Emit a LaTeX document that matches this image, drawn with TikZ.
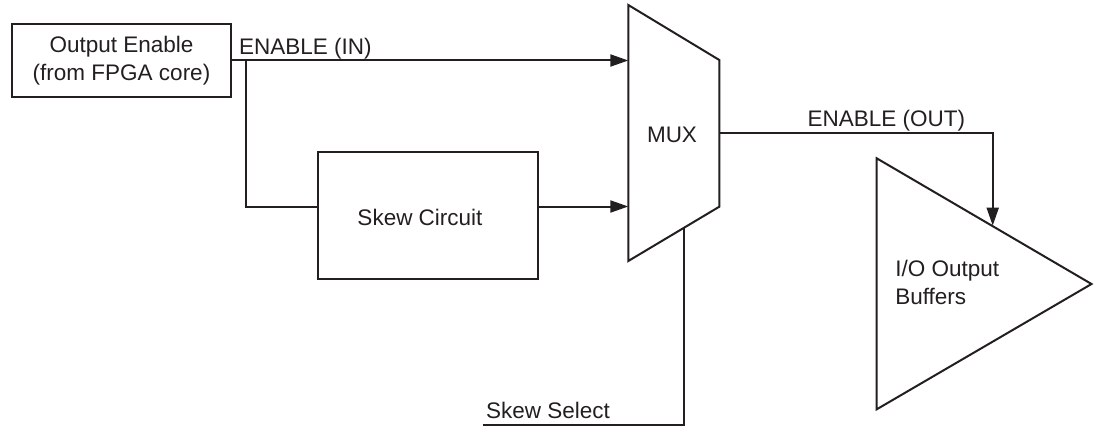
\documentclass[tikz,border=0pt]{standalone}
\usepackage{fontspec}
\setmainfont{Liberation Sans}
\usetikzlibrary{arrows.meta}
\definecolor{ink}{RGB}{35,31,32}
\begin{document}
\begin{tikzpicture}[x=1pt,y=-1pt, line width=2pt, color=ink,
  font=\fontsize{22.5}{28}\selectfont,
  box/.style={draw, rectangle, inner sep=0pt, line join=miter},
  arr/.style={-{Triangle[length=18pt,width=12pt]}},
  lbl/.style={inner sep=0pt, anchor=base west},
  ctr/.style={inner sep=0pt, anchor=base}]
\useasboundingbox (0,0) rectangle (1094,428);
% boxes
\node[box, minimum width=219pt, minimum height=73pt, align=center] (oe) at (121.5,60.5) {Output Enable\\(from FPGA core)};
\node[box, minimum width=219.4pt, minimum height=127.6pt] (sk) at (428,215.5) {};
\node[ctr] (sktxt) at (420,225) {Skew Circuit};
% MUX
\coordinate (m1) at (628.3,5);
\coordinate (m2) at (719.3,60);
\coordinate (m3) at (719.3,206.7);
\coordinate (m4) at (628.3,261);
\draw[line join=miter] (m1) -- (m2) -- (m3) -- (m4) -- cycle;
\node[ctr] (muxtxt) at (672,142.7) {MUX};
% buffer triangle
\coordinate (t1) at (876.7,158.3);
\coordinate (t2) at (1091.5,284);
\coordinate (t3) at (876.7,409.3);
\draw[line join=miter] (t1) -- (t2) -- (t3) -- cycle;
\node[lbl, align=left] (buftxt) at (894.3,304) {I/O Output\\Buffers};
% connection points
\coordinate (muxin1) at (628.3,60.5);
\coordinate (muxin2) at (628.3,206.5);
\coordinate (br) at (245.7,60.5);
\coordinate (skin) at (318.3,206.5);
\coordinate (skout) at (537.7,206.5);
\coordinate (muxout) at (719.3,133.3);
\coordinate (bufin) at (992.7,225.6);
\coordinate (sel0) at (482.7,425);
\coordinate (selm) at (684,228);
% connectors
\draw[arr] (oe.east) -- (muxin1);
\draw (br) |- (skin);
\draw[arr] (skout) -- (muxin2);
\draw[arr] (muxout) -| (bufin);
\draw (sel0) -| (selm);
% labels
\node[lbl] (lin) at (238,55) {ENABLE (IN)};
\node[lbl] (lout) at (806.7,126) {ENABLE (OUT)};
\node[lbl] (lsel) at (485,418.3) {Skew Select};
\end{tikzpicture}
\end{document}
